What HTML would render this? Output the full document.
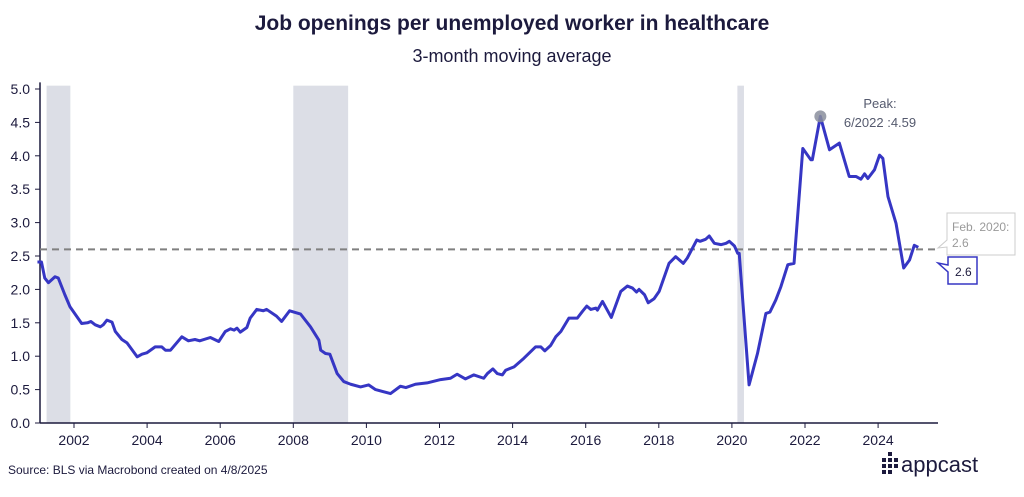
<!DOCTYPE html>
<html><head><meta charset="utf-8"><style>
body{margin:0;background:#fff;font-family:"Liberation Sans",sans-serif;}
svg text{font-family:"Liberation Sans",sans-serif;}
</style></head><body>
<svg width="1024" height="492" viewBox="0 0 1024 492">
<text x="512" y="30" text-anchor="middle" font-size="21" font-weight="bold" fill="#1c1a3d">Job openings per unemployed worker in healthcare</text>
<text x="512" y="62" text-anchor="middle" font-size="18" fill="#1c1a3d">3-month moving average</text>
<g id="shade"></g>
<g id="axes"></g>
<g id="plot"></g>
<text x="8" y="474" font-size="12" fill="#1c1a3d">Source: BLS via Macrobond created on 4/8/2025</text>
<g>
<g fill="#1c1a3d">
<rect x="882" y="458" width="4" height="4"/><rect x="882" y="464" width="4" height="4"/><rect x="888" y="458" width="4" height="4"/><rect x="888" y="464" width="4" height="4"/><rect x="888" y="470" width="4" height="4"/><rect x="888" y="452" width="4" height="4"/><rect x="894" y="458" width="4" height="4"/><rect x="894" y="464" width="4" height="4"/><rect x="882" y="470" width="4" height="4"/>
</g>
<text x="901" y="472" font-size="22" fill="#1c1a3d">appcast</text>
</g>
</svg>
<script>
const years=[2001.0,2001.11,2001.2,2001.3,2001.48,2001.57,2001.75,2001.89,2002.21,2002.37,2002.46,2002.58,2002.72,2002.8,2002.9,2003.04,2003.13,2003.31,2003.45,2003.73,2003.86,2003.99,2004.22,2004.4,2004.5,2004.64,2004.95,2005.13,2005.31,2005.44,2005.73,2005.96,2006.14,2006.28,2006.38,2006.46,2006.55,2006.73,2006.82,2007.0,2007.18,2007.27,2007.54,2007.68,2007.9,2008.2,2008.47,2008.7,2008.75,2008.88,2009.0,2009.2,2009.38,2009.57,2009.84,2010.06,2010.25,2010.66,2010.93,2011.08,2011.34,2011.66,2012.03,2012.3,2012.48,2012.71,2012.94,2013.21,2013.31,2013.46,2013.58,2013.72,2013.81,2014.04,2014.31,2014.63,2014.77,2014.88,2015.04,2015.18,2015.32,2015.54,2015.77,2015.91,2016.03,2016.14,2016.28,2016.32,2016.46,2016.7,2016.96,2017.14,2017.28,2017.39,2017.46,2017.61,2017.71,2017.87,2018.01,2018.28,2018.46,2018.67,2018.78,2019.04,2019.13,2019.28,2019.38,2019.52,2019.7,2019.84,2019.93,2020.07,2020.16,2020.2,2020.47,2020.7,2020.93,2021.04,2021.2,2021.34,2021.53,2021.7,2021.94,2022.16,2022.2,2022.42,2022.67,2022.94,2023.21,2023.4,2023.53,2023.63,2023.72,2023.9,2024.04,2024.13,2024.27,2024.49,2024.7,2024.86,2024.99,2025.1];
const values=[2.41,2.41,2.17,2.1,2.19,2.17,1.92,1.74,1.49,1.5,1.52,1.47,1.44,1.47,1.54,1.51,1.37,1.25,1.2,0.99,1.03,1.05,1.14,1.14,1.09,1.09,1.29,1.23,1.25,1.23,1.28,1.22,1.37,1.41,1.39,1.42,1.36,1.43,1.57,1.7,1.68,1.7,1.6,1.52,1.68,1.63,1.44,1.24,1.09,1.04,1.03,0.74,0.62,0.58,0.54,0.57,0.5,0.44,0.55,0.53,0.58,0.6,0.65,0.67,0.73,0.66,0.72,0.67,0.74,0.81,0.74,0.72,0.79,0.84,0.97,1.14,1.14,1.08,1.16,1.29,1.37,1.57,1.57,1.67,1.75,1.7,1.72,1.69,1.82,1.58,1.97,2.05,2.02,1.96,2.0,1.92,1.8,1.86,1.97,2.39,2.49,2.39,2.47,2.74,2.72,2.75,2.8,2.69,2.67,2.69,2.72,2.65,2.54,2.54,0.57,1.04,1.64,1.66,1.84,2.04,2.37,2.39,4.11,3.94,3.94,4.59,4.09,4.19,3.69,3.69,3.65,3.73,3.66,3.79,4.01,3.96,3.39,2.99,2.32,2.44,2.66,2.63];
const yTicks=[0,0.5,1,1.5,2,2.5,3,3.5,4,4.5,5];
const xTicks=[2002,2004,2006,2008,2010,2012,2014,2016,2018,2020,2022,2024];
const recessions=[[2001.25,2001.9],[2008.0,2009.5],[2020.15,2020.33]];
const refValue=2.6;
const NS='http://www.w3.org/2000/svg';
const X=y=>74+(y-2002)*36.55, Y=v=>423-v*66.8;
function mk(t,a,p){const e=document.createElementNS(NS,t);for(const k in a)e.setAttribute(k,a[k]);p.appendChild(e);return e;}
const sh=document.getElementById('shade'),ax=document.getElementById('axes'),pl=document.getElementById('plot');
recessions.forEach(r=>{const e=mk('rect',{x:X(r[0]),y:Y(5.05),width:X(r[1])-X(r[0]),height:Y(0)-Y(5.05),fill:'#dcdee6'},sh);

});
mk('line',{x1:40,y1:Y(5.1),x2:40,y2:Y(0),stroke:'#1c1a3d','stroke-width':1.5},ax);
mk('line',{x1:40,y1:Y(0),x2:938,y2:Y(0),stroke:'#1c1a3d','stroke-width':1.5},ax);
yTicks.forEach(v=>{mk('line',{x1:35,y1:Y(v),x2:40,y2:Y(v),stroke:'#1c1a3d'},ax);
const t=mk('text',{x:30,y:Y(v)+5,'text-anchor':'end','font-size':14,fill:'#1c1a3d'},ax);t.textContent=v.toFixed(1);

});
xTicks.forEach(y=>{mk('line',{x1:X(y),y1:Y(0),x2:X(y),y2:Y(0)+5,stroke:'#1c1a3d'},ax);
const t=mk('text',{x:X(y),y:Y(0)+22,'text-anchor':'middle','font-size':14,fill:'#1c1a3d'},ax);t.textContent=y;

});
const ref=mk('line',{x1:40,y1:Y(refValue),x2:940,y2:Y(refValue),stroke:'#808080','stroke-width':2,'stroke-dasharray':'7,5'},pl);


const line=mk('polyline',{points:years.map((y,i)=>X(y)+','+Y(values[i])).join(' '),fill:'none',stroke:'#3636c4','stroke-width':3,'stroke-linejoin':'round'},pl);


let pi=values.indexOf(Math.max(...values));
const dot=mk('circle',{cx:X(years[pi]),cy:Y(values[pi]),r:6,fill:'#8a8e9c',opacity:0.85},pl);


const p1=mk('text',{x:880,y:108,'text-anchor':'middle','font-size':13,fill:'#555a6e'},pl);p1.textContent='Peak:';


const p2=mk('text',{x:880,y:127,'text-anchor':'middle','font-size':13,fill:'#555a6e'},pl);p2.textContent='6/2022 :'+values[pi].toFixed(2);


const fb=mk('path',{d:'M947 213 H1015 V255 H947 V247 L938 248 L947 240 Z',fill:'#fff',stroke:'#ccc'},pl);


const f1=mk('text',{x:952,y:231,'font-size':12,fill:'#9a9a9a'},pl);f1.textContent='Feb. 2020:';


const f2=mk('text',{x:952,y:247,'font-size':12,fill:'#9a9a9a'},pl);f2.textContent=refValue.toFixed(1);


const lb=mk('path',{d:'M948 265 L938 263 L948 272 V284 H977 V257 H948 Z',fill:'#fff',stroke:'#3636c4','stroke-width':1.5},pl);


const lt=mk('text',{x:955,y:276,'font-size':12,fill:'#1c1a3d'},pl);lt.textContent=values[values.length-1].toFixed(1);


</script>
</body></html>
